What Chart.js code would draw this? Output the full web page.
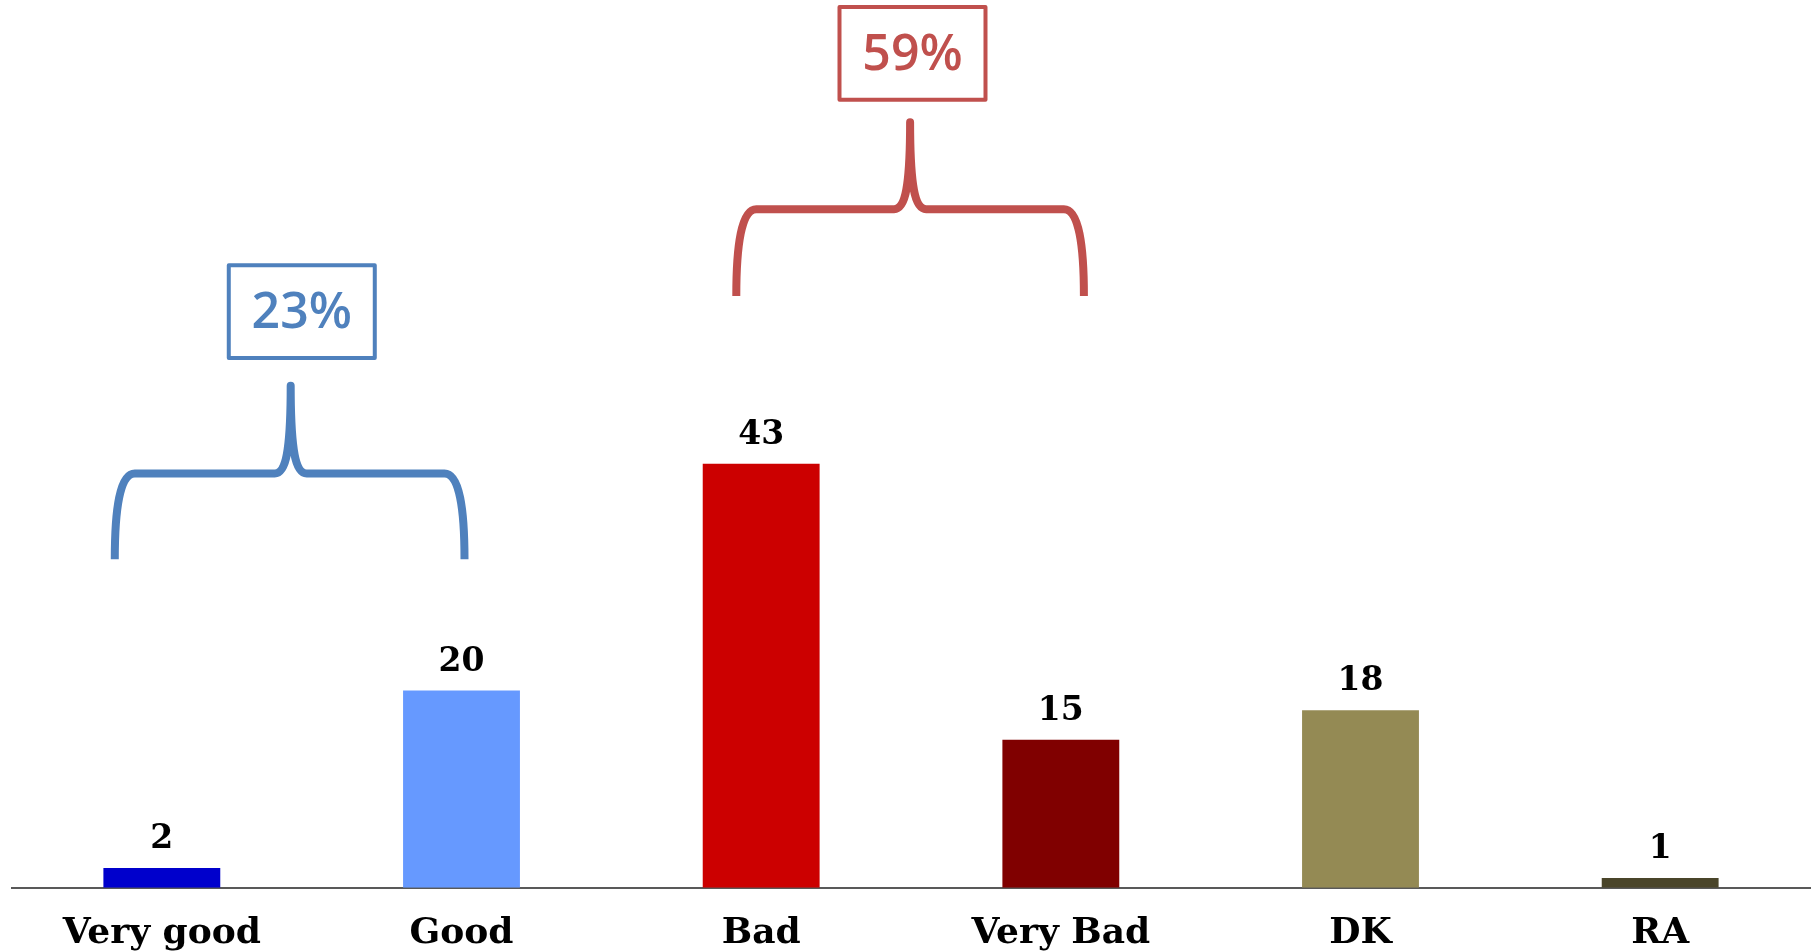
<!DOCTYPE html>
<html>
<head>
<meta charset="utf-8">
<script src="https://cdn.jsdelivr.net/npm/chart.js@4"></script>
<style>
  html, body { margin: 0; padding: 0; background: #fff; }
  #wrap { width: 1816px; height: 951px; }
</style>
</head>
<body>
<div id="wrap"><canvas id="chart"></canvas></div>
<script>
// categories and values
const categories = ['Very good', 'Good', 'Bad', 'Very Bad', 'DK', 'RA'];
const values = [2, 20, 43, 15, 18, 1];
const barColors = ['#0000cc', '#6699ff', '#cc0000', '#800000', '#948a54', '#4a452a'];

// grouped totals shown above the brackets
const groupLabels = ['23%', '59%'];
const groupColors = ['#4f81bd', '#c0504d'];

// value labels over bars
const valueLabels = {
  id: 'valueLabels',
  afterDatasetsDraw(chart) {
    const ctx = chart.ctx;
    const meta = chart.getDatasetMeta(0);
    ctx.save();
    ctx.font = 'bold 33px "DejaVu Serif"';
    ctx.fillStyle = '#000';
    ctx.textAlign = 'center';
    ctx.textBaseline = 'alphabetic';
    meta.data.forEach((bar, i) => {
      ctx.fillText(String(values[i]), bar.x, bar.y - 20);
    });
    ctx.restore();
  }
};

// curly brackets + boxed percentages
const brackets = {
  id: 'brackets',
  afterDatasetsDraw(chart, args, opts) {
    const ctx = chart.ctx;
    const xs = chart.scales.x, ys = chart.scales.y;
    opts.items.forEach((b, i) => {
      const left = xs.getPixelForValue(b.from);
      const right = xs.getPixelForValue(b.to);
      const mid = xs.getPixelForValue(b.mid);
      const bottom = ys.getPixelForValue(b.base);
      const hy = ys.getPixelForValue(b.bar);
      const top = ys.getPixelForValue(b.tip);
      ctx.save();
      ctx.strokeStyle = groupColors[i];
      ctx.lineWidth = 8;
      ctx.lineJoin = 'round';
      ctx.lineCap = 'butt';
      ctx.beginPath();
      ctx.moveTo(left, bottom);
      ctx.bezierCurveTo(left, bottom - 50, left + 5, hy, left + 20, hy);
      ctx.lineTo(mid - 16, hy);
      ctx.bezierCurveTo(mid - 4, hy, mid, hy - 25, mid, top);
      ctx.bezierCurveTo(mid, hy - 25, mid + 4, hy, mid + 16, hy);
      ctx.lineTo(right - 20, hy);
      ctx.bezierCurveTo(right - 5, hy, right, bottom - 50, right, bottom);
      ctx.stroke();

      // box
      const bx = xs.getPixelForValue(b.boxAt);
      const by1 = ys.getPixelForValue(b.boxTop);
      const by2 = ys.getPixelForValue(b.boxBottom);
      const w = 146;
      ctx.lineWidth = 4;
      ctx.strokeRect(bx - w / 2, by1, w, by2 - by1);
      ctx.fillStyle = groupColors[i];
      ctx.font = '600 50px "Open Sans"';
      ctx.textAlign = 'center';
      ctx.textBaseline = 'middle';
      ctx.fillText(groupLabels[i], bx, (by1 + by2) / 2 + 2);
      ctx.restore();
    });
  }
};

new Chart(document.getElementById('chart'), {
  type: 'bar',
  data: {
    labels: categories,
    datasets: [{
      data: values,
      backgroundColor: barColors,
      borderWidth: 0,
      barPercentage: 0.39,
      categoryPercentage: 1
    }]
  },
  options: {
    responsive: true,
    maintainAspectRatio: false,
    animation: false,
    layout: { padding: { left: 12, right: 6, top: 0, bottom: -28 } },
    plugins: {
      legend: { display: false },
      tooltip: { enabled: false },
      brackets: {
        items: [
          { from: -0.157, to: 1.01, mid: 0.43, base: 33.3, bar: 42, tip: 50.9, boxAt: 0.467, boxTop: 63.1, boxBottom: 53.7 },
          { from: 1.917, to: 3.077, mid: 2.497, base: 60, bar: 68.8, tip: 77.6, boxAt: 2.505, boxTop: 89.3, boxBottom: 79.9 }
        ]
      }
    },
    scales: {
      x: {
        grid: { display: false, drawTicks: false },
        border: { display: true, color: '#595959', width: 2 },
        ticks: {
          color: '#000',
          padding: 24,
          font: { family: 'DejaVu Serif', weight: 'bold', size: 36 }
        }
      },
      y: {
        display: false,
        min: 0,
        max: 90
      }
    }
  },
  plugins: [valueLabels, brackets]
});
</script>
</body>
</html>
